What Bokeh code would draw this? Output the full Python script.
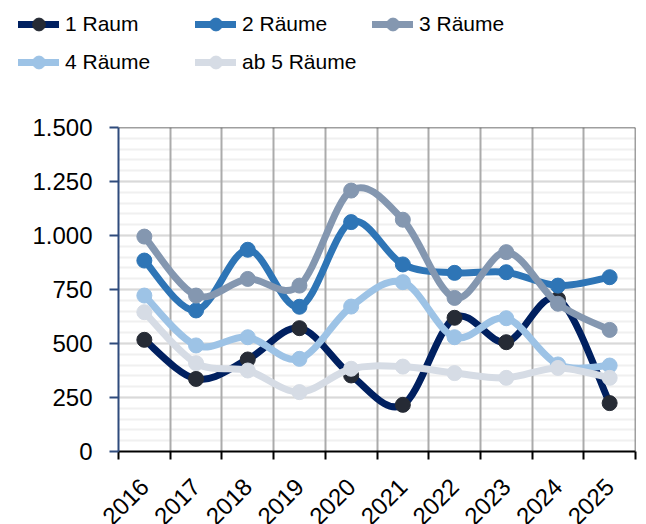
import math
from bokeh.plotting import figure
from bokeh.models import (Range1d, FixedTicker, Span, Legend, LegendItem,
                          LabelSet, ColumnDataSource)
from bokeh.core.properties import value
from bokeh.embed import file_html
from bokeh.resources import INLINE

# ---------------- data ----------------
years = [2016, 2017, 2018, 2019, 2020, 2021, 2022, 2023, 2024, 2025]
year_labels = [str(y) for y in years]

raum1 = [517, 336, 426, 571, 352, 216, 619, 506, 706, 224]
raum2 = [884, 653, 934, 670, 1062, 866, 827, 830, 768, 807]
raum3 = [995, 722, 799, 768, 1208, 1073, 711, 923, 684, 563]
raum4 = [722, 491, 529, 429, 671, 784, 529, 617, 403, 398]
raum5 = [645, 409, 375, 275, 383, 393, 363, 341, 387, 341]

series_names = ["1 Raum", "2 Räume", "3 Räume", "4 Räume", "ab 5 Räume"]
series_values = [raum1, raum2, raum3, raum4, raum5]
line_colors = ["#002060", "#2e75b6", "#8497b0", "#9dc3e6", "#d6dce5"]
marker_colors = ["#262b35", "#2e75b6", "#8497b0", "#9dc3e6", "#d6dce5"]

y_ticks = [0, 250, 500, 750, 1000, 1250, 1500]
y_tick_labels = ["0", "250", "500", "750", "1.000", "1.250", "1.500"]
y_minor = list(range(0, 1501, 50))

FONT = "Liberation Sans"
LINE_W = 7
MARK = 15

# ---------------- layout constants ----------------
W = 638
LEFT, RIGHT = 118, 3
FRAME_W = W - LEFT - RIGHT
LEG_H = 90
MAIN_TOP, MAIN_BOTTOM = 37, 15
MAIN_H = MAIN_TOP + 324 + MAIN_BOTTOM
LAB_H = 524 - LEG_H - MAIN_H

x_lo, x_hi = years[0] - 0.5, years[-1] + 0.5
cat_w = FRAME_W / (x_hi - x_lo)


def strip(height, x_range):
    f = figure(width=W, height=height, x_range=x_range, y_range=Range1d(0, 1),
               min_border=0, x_axis_location=None, y_axis_location=None,
               output_backend="svg", toolbar_location=None)
    f.grid.visible = False
    f.outline_line_color = None
    return f


# ---------------- legend strip ----------------
leg = strip(LEG_H, Range1d(x_lo, x_hi))
items = []
for name, vals, lc, mc in zip(series_names, series_values, line_colors, marker_colors):
    # swatch renderers: hidden, used only to draw the legend entries
    lr = leg.line(years, vals, line_color=lc, line_width=LINE_W, line_cap="round",
                  visible=False)
    sr = leg.scatter(years, vals, size=MARK, fill_color=mc, line_color=mc,
                     visible=False)
    items.append(LegendItem(label=name, renderers=[lr, sr]))

legend = Legend(items=items, location=(18, 12), orientation="horizontal", ncols=3,
                glyph_width=41, glyph_height=32, label_height=32, label_width=124,
                label_standoff=6, spacing=6, padding=0, margin=0,
                border_line_color=None, background_fill_alpha=0,
                label_text_font=FONT, label_text_font_size="21px",
                label_text_color="black")
leg.add_layout(legend)

# ---------------- main chart ----------------
p = figure(width=W, height=MAIN_H,
           x_range=Range1d(x_lo, x_hi), y_range=Range1d(0, 1500),
           min_border_left=LEFT, min_border_right=RIGHT,
           min_border_top=MAIN_TOP, min_border_bottom=MAIN_BOTTOM,
           output_backend="svg", toolbar_location=None)
p.outline_line_color = None
p.background_fill_color = "white"
p.border_fill_color = "white"

boundaries = [y + 0.5 for y in years[:-1]]
p.xgrid.ticker = FixedTicker(ticks=boundaries)
p.xgrid.grid_line_color = "#ababab"
p.xgrid.grid_line_width = 2

yt = FixedTicker(ticks=y_ticks, minor_ticks=y_minor)
p.yaxis.ticker = yt
p.ygrid.ticker = yt
p.ygrid.level = "image"          # horizontal lines beneath the vertical ones
p.ygrid.grid_line_color = "#d9d9d9"
p.ygrid.grid_line_width = 2
p.ygrid.minor_grid_line_color = "#f0f0f0"
p.ygrid.minor_grid_line_width = 2

p.yaxis.major_label_overrides = dict(zip(y_ticks, y_tick_labels))
p.yaxis.major_label_text_font = FONT
p.yaxis.major_label_text_font_size = "24px"
p.yaxis.major_label_text_color = "black"
p.yaxis.major_label_standoff = 17
p.yaxis.axis_line_color = "#2f4b7c"
p.yaxis.axis_line_width = 2
p.yaxis.major_tick_line_color = "#2f4b7c"
p.yaxis.major_tick_line_width = 2
p.yaxis.major_tick_out = 9
p.yaxis.major_tick_in = 0
p.yaxis.minor_tick_line_color = None

p.xaxis.ticker = FixedTicker(ticks=[], minor_ticks=[x_lo] + boundaries + [x_hi])
p.xaxis.axis_line_color = "black"
p.xaxis.axis_line_width = 2
p.xaxis.minor_tick_line_color = "black"
p.xaxis.minor_tick_line_width = 2
p.xaxis.minor_tick_out = 8
p.xaxis.minor_tick_in = 0
p.xaxis.major_tick_line_color = None
p.xaxis.major_label_text_font_size = "0px"

p.add_layout(Span(location=1500, dimension="width", line_color="#404040", line_width=1.5))
p.add_layout(Span(location=x_hi, dimension="height", line_color="#404040", line_width=1.5))


def smooth_controls(xs, ys):
    n = len(xs)
    x0, y0, x1, y1, cx0, cy0, cx1, cy1 = [], [], [], [], [], [], [], []
    for i in range(n - 1):
        pm = max(i - 1, 0)
        pn = min(i + 2, n - 1)
        x0.append(xs[i]); y0.append(ys[i])
        x1.append(xs[i + 1]); y1.append(ys[i + 1])
        cx0.append(xs[i] + (xs[i + 1] - xs[pm]) / 6.0)
        cy0.append(ys[i] + (ys[i + 1] - ys[pm]) / 6.0)
        cx1.append(xs[i + 1] - (xs[pn] - xs[i]) / 6.0)
        cy1.append(ys[i + 1] - (ys[pn] - ys[i]) / 6.0)
    return dict(x0=x0, y0=y0, x1=x1, y1=y1, cx0=cx0, cy0=cy0, cx1=cx1, cy1=cy1)


for vals, lc, mc in zip(series_values, line_colors, marker_colors):
    src = ColumnDataSource(smooth_controls(years, vals))
    p.bezier(x0="x0", y0="y0", x1="x1", y1="y1", cx0="cx0", cy0="cy0",
             cx1="cx1", cy1="cy1", source=src, line_color=lc, line_width=LINE_W,
             line_cap="round")
    p.scatter(years, vals, size=MARK, fill_color=mc, line_color=mc)

# ---------------- x tick labels strip ----------------
lab = strip(LAB_H, Range1d(x_lo - LEFT / cat_w, x_hi + RIGHT / cat_w))
lab_src = ColumnDataSource(dict(x=years, y=[1] * len(years), t=year_labels))
lab.add_layout(LabelSet(x="x", y="y", text="t", source=lab_src,
                        x_offset=0, y_offset=-16, angle=math.pi / 4,
                        text_align="right", text_baseline="middle",
                        text_font=value(FONT), text_font_size=value("24px"),
                        text_color="black"))

open("out.html", "w").write(file_html([leg, p, lab], INLINE))
